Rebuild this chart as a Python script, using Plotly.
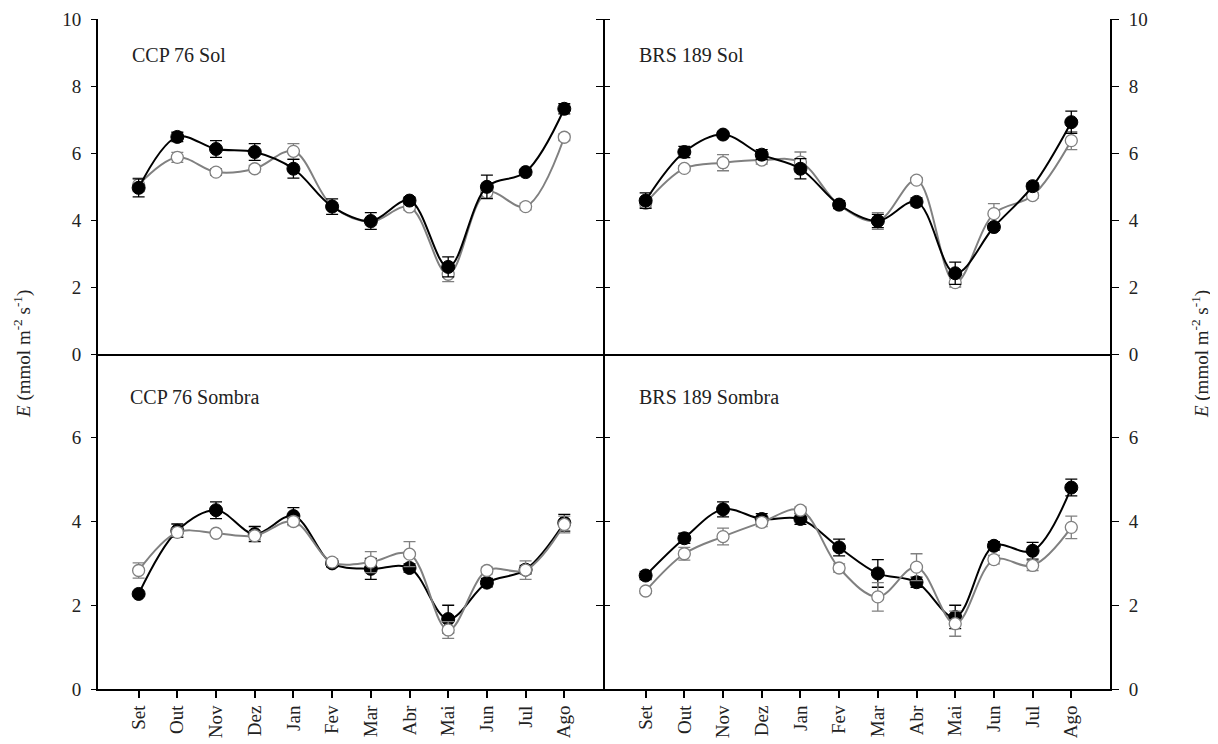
import plotly.graph_objects as go

months = ["Set", "Out", "Nov", "Dez", "Jan", "Fev", "Mar", "Abr", "Mai", "Jun", "Jul", "Ago"]
xpos = list(range(len(months)))

# CCP 76 Sol
ccp_sol_filled = [4.96, 6.48, 6.12, 6.03, 5.53, 4.40, 3.97, 4.58, 2.60, 4.99, 5.43, 7.32]
ccp_sol_filled_err = [0.27, 0.14, 0.25, 0.25, 0.28, 0.23, 0.25, 0.10, 0.30, 0.35, 0.08, 0.15]
ccp_sol_open = [5.05, 5.87, 5.43, 5.53, 6.05, 4.42, 3.95, 4.39, 2.38, 4.83, 4.40, 6.47]
ccp_sol_open_err = [0.20, 0.15, 0.10, 0.10, 0.23, 0.10, 0.10, 0.10, 0.22, 0.15, 0.10, 0.10]

# BRS 189 Sol
brs_sol_filled = [4.58, 6.03, 6.55, 5.95, 5.53, 4.46, 3.97, 4.54, 2.41, 3.79, 5.01, 6.92]
brs_sol_filled_err = [0.23, 0.17, 0.08, 0.15, 0.30, 0.12, 0.20, 0.12, 0.33, 0.10, 0.10, 0.33]
brs_sol_open = [4.50, 5.54, 5.71, 5.79, 5.73, 4.45, 3.97, 5.19, 2.13, 4.19, 4.73, 6.37]
brs_sol_open_err = [0.12, 0.08, 0.24, 0.12, 0.30, 0.10, 0.25, 0.08, 0.13, 0.30, 0.08, 0.27]

# CCP 76 Sombra
ccp_sombra_filled = [2.27, 3.78, 4.27, 3.70, 4.13, 3.00, 2.87, 2.89, 1.67, 2.54, 2.85, 3.97]
ccp_sombra_filled_err = [0.05, 0.16, 0.20, 0.18, 0.20, 0.08, 0.25, 0.10, 0.33, 0.10, 0.10, 0.20]
ccp_sombra_open = [2.83, 3.74, 3.72, 3.66, 4.00, 3.03, 3.03, 3.22, 1.41, 2.83, 2.84, 3.93]
ccp_sombra_open_err = [0.18, 0.10, 0.05, 0.10, 0.10, 0.08, 0.25, 0.30, 0.20, 0.08, 0.22, 0.20]

# BRS 189 Sombra
brs_sombra_filled = [2.71, 3.60, 4.29, 4.06, 4.06, 3.38, 2.76, 2.55, 1.72, 3.42, 3.30, 4.81]
brs_sombra_filled_err = [0.10, 0.12, 0.18, 0.13, 0.13, 0.20, 0.33, 0.12, 0.28, 0.10, 0.20, 0.20]
brs_sombra_open = [2.34, 3.23, 3.64, 3.98, 4.27, 2.89, 2.20, 2.91, 1.56, 3.09, 2.95, 3.86]
brs_sombra_open_err = [0.05, 0.15, 0.20, 0.10, 0.08, 0.10, 0.34, 0.32, 0.30, 0.10, 0.12, 0.27]

panel_labels = ["CCP 76 Sol", "BRS 189 Sol", "CCP 76 Sombra", "BRS 189 Sombra"]
ytitle = "<i>E</i> (mmol m<sup>-2</sup> s<sup>-1</sup>)"

FONT = "Liberation Serif"
TXT = "#222222"
GRAY = "#808080"

fig = go.Figure()


def filled_trace(y, err, xa, ya):
    return go.Scatter(
        x=xpos, y=y, xaxis=xa, yaxis=ya, mode="lines+markers",
        line=dict(color="black", width=2, shape="spline", smoothing=1.0),
        marker=dict(color="black", size=13, line=dict(color="black", width=1)),
        error_y=dict(type="data", array=err, visible=True, color="black",
                     thickness=1.3, width=6),
        showlegend=False, hoverinfo="skip")


def open_trace(y, err, xa, ya):
    return go.Scatter(
        x=xpos, y=y, xaxis=xa, yaxis=ya, mode="lines+markers",
        line=dict(color=GRAY, width=2, shape="spline", smoothing=1.0),
        marker=dict(color="white", size=12, line=dict(color=GRAY, width=1.3)),
        error_y=dict(type="data", array=err, visible=True, color=GRAY,
                     thickness=1.3, width=6),
        showlegend=False, hoverinfo="skip")


# top panels: filled on top
fig.add_trace(open_trace(ccp_sol_open, ccp_sol_open_err, "x", "y"))
fig.add_trace(filled_trace(ccp_sol_filled, ccp_sol_filled_err, "x", "y"))
fig.add_trace(open_trace(brs_sol_open, brs_sol_open_err, "x2", "y2"))
fig.add_trace(filled_trace(brs_sol_filled, brs_sol_filled_err, "x2", "y2"))
# bottom panels: open on top
fig.add_trace(filled_trace(ccp_sombra_filled, ccp_sombra_filled_err, "x3", "y3"))
fig.add_trace(open_trace(ccp_sombra_open, ccp_sombra_open_err, "x3", "y3"))
fig.add_trace(filled_trace(brs_sombra_filled, brs_sombra_filled_err, "x4", "y4"))
fig.add_trace(open_trace(brs_sombra_open, brs_sombra_open_err, "x4", "y4"))

tickfont = dict(family=FONT, size=19, color=TXT)
xr = [-1.05, 12.0]
gap = 0.001  # so the two mirrored middle lines coincide
LEFT_DOM = [0, 0.5 - gap]
RIGHT_DOM = [0.5 + gap, 1]

common_x = dict(range=xr, showline=True, linecolor="black", linewidth=2,
                showgrid=False, zeroline=False, fixedrange=True, automargin=False)
fig.update_layout(
    xaxis=dict(domain=LEFT_DOM, anchor="y", ticks="", showticklabels=False, **common_x),
    xaxis2=dict(domain=RIGHT_DOM, anchor="y2", ticks="", showticklabels=False, **common_x),
    xaxis3=dict(domain=LEFT_DOM, anchor="y3", ticks="outside", ticklen=7, tickwidth=1.5,
                tickcolor="black", tickvals=xpos, ticktext=months, tickangle=-90,
                tickfont=tickfont, ticklabeloverflow="allow", **common_x),
    xaxis4=dict(domain=RIGHT_DOM, anchor="y4", ticks="outside", ticklen=7, tickwidth=1.5,
                tickcolor="black", tickvals=xpos, ticktext=months, tickangle=-90,
                tickfont=tickfont, ticklabeloverflow="allow", **common_x),
)

common_y = dict(showline=True, linecolor="black", linewidth=2, showgrid=False,
                zeroline=False, ticks="outside", tickwidth=1.3, tickcolor="black",
                mirror="ticks", tickfont=tickfont, fixedrange=True, automargin=False,
                ticklabeloverflow="allow")
fig.update_layout(
    yaxis=dict(domain=[0.5, 1], anchor="x", range=[0, 10], tickvals=[0, 2, 4, 6, 8, 10],
               side="left", ticklen=5, ticklabelstandoff=6, **common_y),
    yaxis2=dict(domain=[0.5, 1], anchor="x2", range=[0, 10], tickvals=[0, 2, 4, 6, 8, 10],
                side="right", ticklen=7, ticklabelstandoff=6, **common_y),
    yaxis3=dict(domain=[0, 0.5], anchor="x3", range=[0, 8], tickvals=[0, 2, 4, 6],
                side="left", ticklen=5, ticklabelstandoff=6, **common_y),
    yaxis4=dict(domain=[0, 0.5], anchor="x4", range=[0, 8], tickvals=[0, 2, 4, 6],
                side="right", ticklen=7, ticklabelstandoff=6, **common_y),
)

ann = []
label_pos = [(0.0317, 0.9463), (0.5328, 0.9463), (0.0300, 0.4363), (0.5328, 0.4363)]
for txt, (px, py) in zip(panel_labels, label_pos):
    ann.append(dict(text=txt, x=px, y=py, xref="paper", yref="paper", xanchor="left",
                    yanchor="middle", showarrow=False,
                    font=dict(family=FONT, size=20, color=TXT)))
ann.append(dict(text=ytitle, x=-0.0752, y=0.5, xref="paper", yref="paper",
                xanchor="center", yanchor="middle", textangle=-90, showarrow=False,
                font=dict(family=FONT, size=19, color=TXT)))
ann.append(dict(text=ytitle, x=1.089, y=0.5, xref="paper", yref="paper",
                xanchor="center", yanchor="middle", textangle=-90, showarrow=False,
                font=dict(family=FONT, size=19, color=TXT)))

# the page body adds an 8 px offset, so the figure is 8 px smaller on each axis
fig.update_layout(
    template="none",
    width=1210, height=736,
    margin=dict(l=90, r=108, t=11, b=55, autoexpand=False),
    paper_bgcolor="white", plot_bgcolor="white",
    annotations=ann, showlegend=False,
    font=dict(family=FONT, color=TXT),
)

fig.write_html("out.html", config={"displayModeBar": False})
